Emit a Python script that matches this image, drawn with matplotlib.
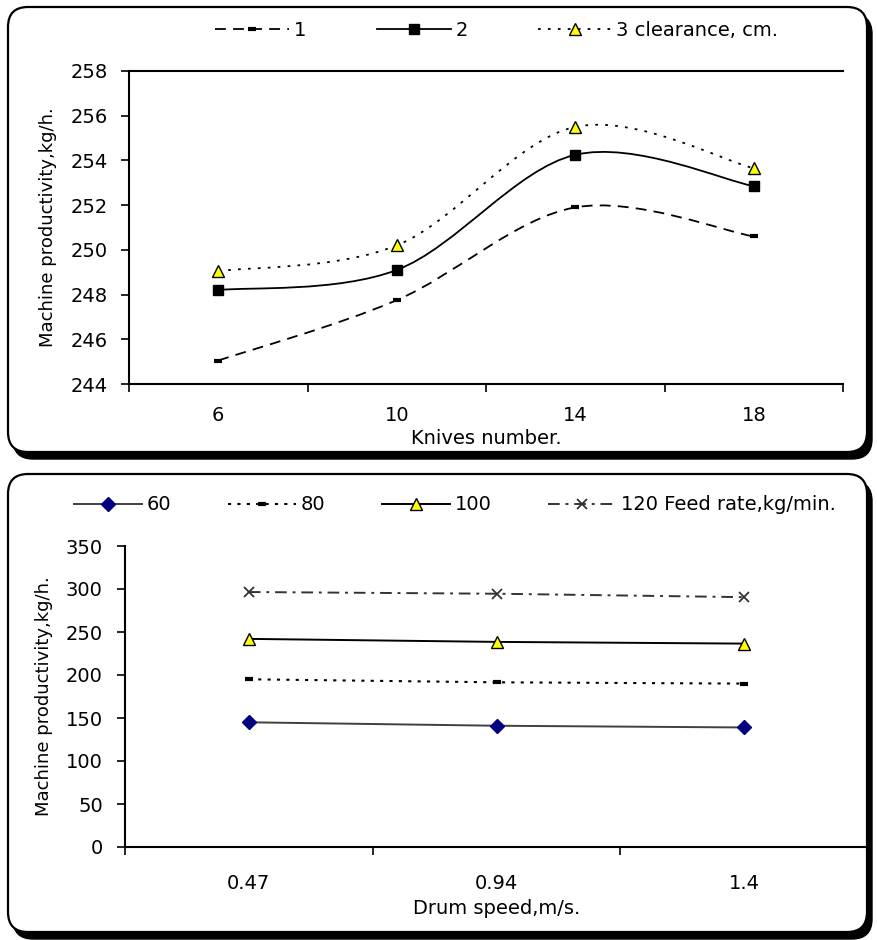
"""
Machine productivity: knives number and drum speed.
"""
import numpy as np
import matplotlib.pyplot as plt
from matplotlib.patches import FancyBboxPatch, PathPatch
from matplotlib.path import Path
from matplotlib.lines import Line2D
from matplotlib.transforms import Affine2D

plt.rcParams['font.family'] = ['DejaVu Sans']

# data of the upper chart
knives = ['6', '10', '14', '18']
clear_1 = [245.05, 247.75, 251.9, 250.6]
clear_2 = [248.2, 249.1, 254.25, 252.85]
clear_3 = [249.05, 250.2, 255.5, 253.65]
clear_labels = ['1', '2', '3 clearance, cm.']

# data of the lower chart
speeds = ['0.47', '0.94', '1.4']
feed_60 = [145, 141, 139]
feed_80 = [195, 191.5, 190]
feed_100 = [242, 238.5, 236.5]
feed_120 = [296.5, 294.5, 290.5]
feed_labels = ['60', '80', '100', '120 Feed rate,kg/min.']

W, H = 877, 940
YLABEL = 'Machine productivity,kg/h.'


def px_trans(fig):
    """Pixel coords (origin top left) -> figure."""
    return Affine2D().scale(1 / W, -1 / H).translate(0, 1) + fig.transFigure


def panel(fig, x0, y0, x1, y1):
    """Rounded frame with shadow."""
    tr = px_trans(fig)
    shadow = FancyBboxPatch((x0 + 5, y0 + 7), x1 - x0, y1 - y0,
                            boxstyle='round,pad=0,rounding_size=20',
                            fc='black', ec='black', lw=1, transform=tr,
                            zorder=-3)
    box = FancyBboxPatch((x0, y0), x1 - x0, y1 - y0,
                         boxstyle='round,pad=0,rounding_size=20',
                         fc='white', ec='black', lw=1.6, transform=tr,
                         zorder=-2)
    fig.add_artist(shadow)
    fig.add_artist(box)


def axes_px(fig, left, top, right, bottom):
    return fig.add_axes([left / W, 1 - bottom / H,
                         (right - left) / W, (bottom - top) / H])


def smooth_path(x, y):
    """Smoothed line through the points (like Excel)."""
    x = np.asarray(x, float)
    y = np.asarray(y, float)
    px = np.concatenate([[x[0]], x, [x[-1]]])
    py = np.concatenate([[y[0]], y, [y[-1]]])
    verts = [(x[0], y[0])]
    codes = [Path.MOVETO]
    for i in range(len(x) - 1):
        c1 = (px[i + 1] + (px[i + 2] - px[i]) / 6,
              py[i + 1] + (py[i + 2] - py[i]) / 6)
        c2 = (px[i + 2] - (px[i + 3] - px[i + 1]) / 6,
              py[i + 2] - (py[i + 3] - py[i + 1]) / 6)
        verts += [c1, c2, (x[i + 1], y[i + 1])]
        codes += [Path.CURVE4] * 3
    return Path(verts, codes)


def style_axes(ax, n, ypad, xpad):
    ax.spines['right'].set_visible(False)
    for s in ['left', 'bottom', 'top']:
        ax.spines[s].set_linewidth(1.5)
    ax.set_xlim(-0.5, n - 0.5)
    ax.set_xticks(range(n))
    ax.set_xticks(np.arange(-0.5, n, 1), minor=True)
    ax.tick_params(axis='x', which='major', length=0, pad=xpad,
                   labelsize=14)
    ax.tick_params(axis='x', which='minor', length=6, width=1.2)
    ax.tick_params(axis='y', length=6, width=1.2, pad=ypad, labelsize=14)
    ax.patch.set_visible(False)


def upper(fig):
    """Верхний график."""
    panel(fig, 8, 7, 867, 452)
    ax = axes_px(fig, 129, 71, 843, 384)
    style_axes(ax, 4, 9, 15.5)
    ax.set_xticklabels(knives)
    ax.set_ylim(244, 258)
    ax.set_yticks(np.arange(244, 259, 2))
    x = np.arange(4)

    styles = [
        dict(ls=(0, (6, 4)), marker='_', ms=6, mew=3, mfc='k', mec='k'),
        dict(ls='-', marker='s', ms=7, mfc='k', mec='k', mew=1),
        dict(ls=(0, (1.5, 4)), marker='^', ms=8, mfc='#ffff00', mec='k',
             mew=1),
    ]
    handles = []
    for vals, st in zip([clear_1, clear_2, clear_3], styles):
        ax.add_patch(PathPatch(smooth_path(x, vals), fill=False, ec='k',
                               lw=1.3, ls=st['ls'], zorder=2))
        mk = {k: v for k, v in st.items() if k != 'ls'}
        ax.plot(x, vals, ls='none', zorder=3, clip_on=False, **mk)
        handles.append(Line2D([], [], color='k', lw=1.3, **st))

    ax.legend(handles, clear_labels, loc='center',
              bbox_to_anchor=(497 / W, 1 - 30 / H),
              bbox_transform=fig.transFigure, ncol=3, frameon=False,
              fontsize=14, handlelength=3.8, handletextpad=0.25,
              columnspacing=3.6)
    fig.text(486 / W, 1 - 439 / H, 'Knives number.', ha='center',
             va='center', fontsize=14)
    fig.text(48 / W, 1 - 227 / H, YLABEL, ha='center', va='center',
             rotation=90, fontsize=13)


def lower(fig):
    """Нижний график."""
    panel(fig, 8, 474, 867, 932)
    ax = axes_px(fig, 125, 546, 868, 847)
    style_axes(ax, 3, 10, 19.5)
    ax.spines['top'].set_visible(False)
    ax.set_xticklabels(speeds)
    ax.set_ylim(0, 350)
    ax.set_yticks(np.arange(0, 351, 50))
    x = np.arange(3)

    styles = [
        dict(color='#404040', ls='-', lw=1.4, marker='D', ms=7,
             mfc='#000080', mec='#000080'),
        dict(color='k', ls=(0, (1.5, 3)), lw=1.5, marker='_', ms=6, mew=3,
             mfc='k', mec='k'),
        dict(color='k', ls='-', lw=1.4, marker='^', ms=8, mfc='#ffff00',
             mec='k', mew=1),
        dict(color='#333333', ls=(0, (6, 3, 1.5, 3)), lw=1.4, marker='x',
             ms=7, mew=1.3, mec='#333333'),
    ]
    handles = []
    for vals, st in zip([feed_60, feed_80, feed_100, feed_120], styles):
        ax.plot(x, vals, clip_on=False, **st)
        handles.append(Line2D([], [], **st))

    ax.legend(handles, feed_labels, loc='center',
              bbox_to_anchor=(455 / W, 1 - 505 / H),
              bbox_transform=fig.transFigure, ncol=4, frameon=False,
              fontsize=14, handlelength=3.5, handletextpad=0.25,
              columnspacing=2.9)
    fig.text(497 / W, 1 - 909 / H, 'Drum speed,m/s.', ha='center',
             va='center', fontsize=14)
    fig.text(44 / W, 1 - 696 / H, YLABEL, ha='center', va='center',
             rotation=90, fontsize=13)


def main():
    fig = plt.figure(figsize=(W / 100, H / 100), dpi=100)
    upper(fig)
    lower(fig)
    fig.savefig('out.png', dpi=100)


if __name__ == '__main__':
    main()
